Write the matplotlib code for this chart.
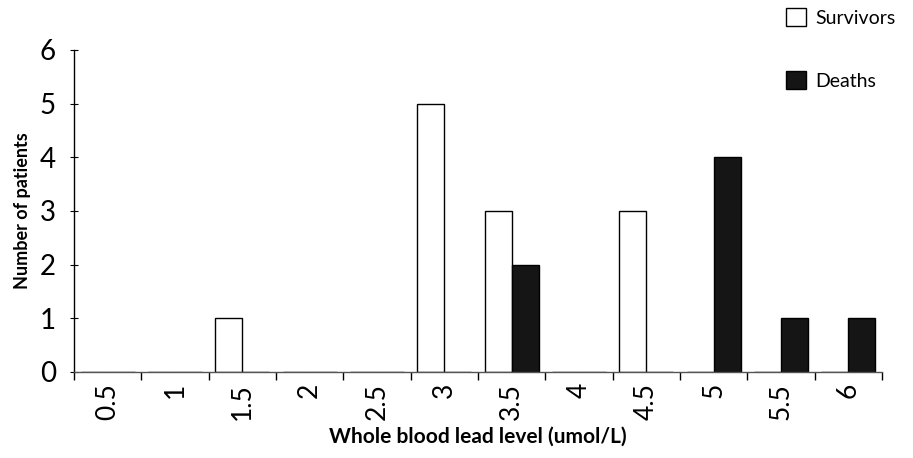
import numpy as np
import matplotlib
matplotlib.use('Agg')
import matplotlib.pyplot as plt
from matplotlib.patches import Patch

# lead level bins and patient counts
levels = ['0.5', '1', '1.5', '2', '2.5', '3', '3.5', '4', '4.5', '5', '5.5', '6']
survivors = [0, 0, 1, 0, 0, 5, 3, 0, 3, 0, 0, 0]
deaths = [0, 0, 0, 0, 0, 0, 2, 0, 0, 4, 1, 1]

plt.rcParams['font.family'] = ['Lato', 'DejaVu Sans']

fig = plt.figure(figsize=(9.13, 4.58), dpi=100)
ax = fig.add_axes([0.081, 0.188, 0.885, 0.703])

x = np.arange(len(levels))
w = 0.4
ax.bar(x - w / 2, survivors, width=w, facecolor='white', edgecolor='black', linewidth=1)
ax.bar(x + w / 2, deaths, width=w, facecolor='#151515', edgecolor='black', linewidth=1)

ax.set_xlim(-0.5, len(levels) - 0.5)
ax.set_ylim(0, 6)

# ticks sit on the category boundaries, labels at the centres
ax.set_xticks(np.arange(-0.5, len(levels), 1))
ax.set_xticklabels([])
ax.set_xticks(x, minor=True)
ax.set_xticklabels(levels, minor=True, rotation=90, fontsize=19)
ax.tick_params(axis='x', which='major', direction='out', length=6, width=1)
ax.tick_params(axis='x', which='minor', length=0, pad=8)
ax.set_yticks(range(7))
ax.set_yticklabels([str(i) for i in range(7)], fontsize=20)
ax.tick_params(axis='y', direction='inout', length=6, width=0.8, pad=10)

for s in ['top', 'right']:
    ax.spines[s].set_visible(False)
ax.spines['left'].set_linewidth(1)
ax.spines['bottom'].set_linewidth(1)
ax.spines['bottom'].set_color('#555555')

ax.set_ylabel('Number of patients', fontsize=13, fontweight='bold', labelpad=6)
ax.set_xlabel('Whole blood lead level (umol/L)', fontsize=15, fontweight='bold', labelpad=5)

handles = [Patch(facecolor='white', edgecolor='black', label='Survivors'),
           Patch(facecolor='#151515', edgecolor='black', label='Deaths')]
fig.legend(handles=handles, loc='upper right', bbox_to_anchor=(1.0, 1.02),
           frameon=False, fontsize=14, handlelength=1.0, handleheight=1.0,
           labelspacing=2.3, handletextpad=0.5)

fig.savefig('out.png', dpi=100)
